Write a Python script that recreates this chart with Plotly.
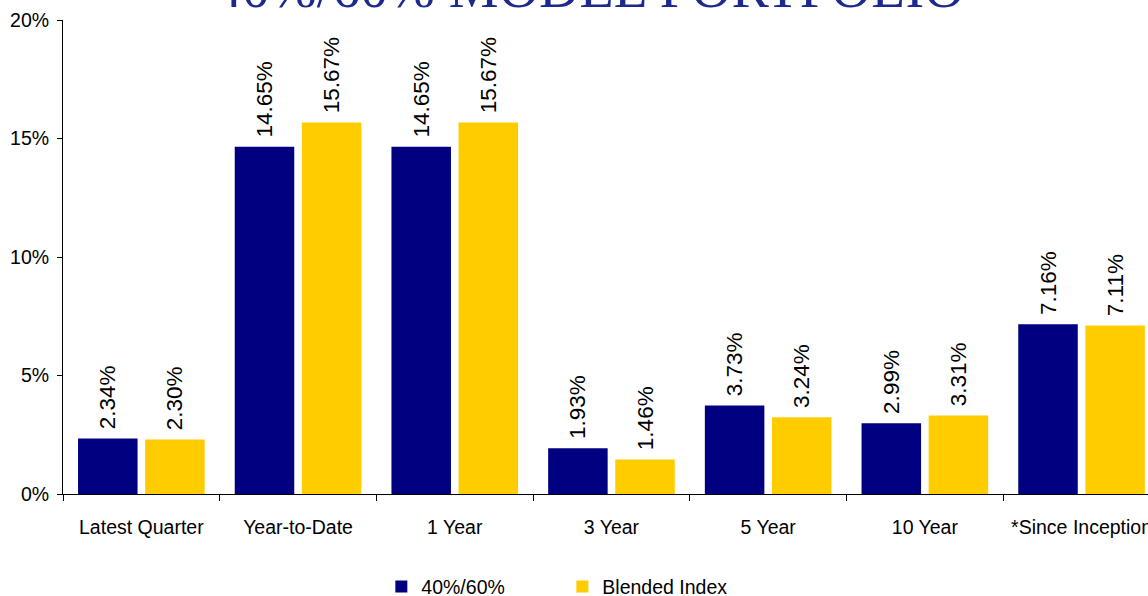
import plotly.graph_objects as go

categories = ["Latest Quarter", "Year-to-Date", "1 Year", "3 Year", "5 Year", "10 Year", "*Since Inception"]
portfolio = [2.34, 14.65, 14.65, 1.93, 3.73, 2.99, 7.16]
blended = [2.30, 15.67, 15.67, 1.46, 3.24, 3.31, 7.11]
series_names = ["40%/60%", "Blended Index"]
y_ticks = [0, 5, 10, 15, 20]
y_tick_labels = ["0%", "5%", "10%", "15%", "20%"]
title_text = "40%/60% MODEL PORTFOLIO"

NAVY = "#000080"
GOLD = "#FFCC00"
FONT = "Liberation Sans, Arial, sans-serif"

fig = go.Figure()
for name, vals, col in [(series_names[0], portfolio, NAVY), (series_names[1], blended, GOLD)]:
    fig.add_trace(go.Bar(
        x=categories, y=vals, name=name,
        marker=dict(color=col, line=dict(width=0)),
        text=["\u00a0" + f"{v:.2f}%" for v in vals],
        textposition="outside", textangle=-90,
        textfont=dict(family=FONT, size=22.5, color="black"),
        constraintext="none", cliponaxis=False,
    ))

fig.update_layout(
    width=1148, height=596,
    margin=dict(l=63, r=0, t=20, b=102, autoexpand=False),
    paper_bgcolor="white", plot_bgcolor="white",
    barmode="group", bargap=0.1436, bargroupgap=0.113,
    font=dict(family=FONT, size=19.5, color="black"),
    showlegend=True,
    legend=dict(orientation="h", x=0.2934, xanchor="left", y=-0.1957, yanchor="middle",
                font=dict(family=FONT, size=19.5, color="black"),
                entrywidth=136, itemwidth=30, traceorder="normal"),
    xaxis=dict(range=[-0.5, 6.424], showline=True, linecolor="black", linewidth=1,
               ticks="outside", tickson="boundaries", ticklen=6, tickcolor="black",
               showgrid=False, ticklabelstandoff=16, automargin=False,
               tickfont=dict(family=FONT, size=19.5, color="black")),
    yaxis=dict(range=[0, 20], tickvals=y_ticks, ticktext=y_tick_labels,
               showline=True, linecolor="black", linewidth=1,
               ticks="outside", ticklen=5, tickcolor="black", showgrid=False,
               zeroline=False, ticklabelstandoff=4, automargin=False,
               tickfont=dict(family=FONT, size=19.5, color="black")),
)

fig.add_annotation(
    text=title_text, xref="paper", yref="paper", x=0.4848, y=1.0,
    xanchor="center", yanchor="bottom", yshift=-1, showarrow=False,
    font=dict(family="Liberation Serif, Times New Roman, serif", size=56, color="#1B2A8C"),
)

fig.write_html("out.html", config={"displayModeBar": False},
               post_script="document.body.style.margin='0';")
